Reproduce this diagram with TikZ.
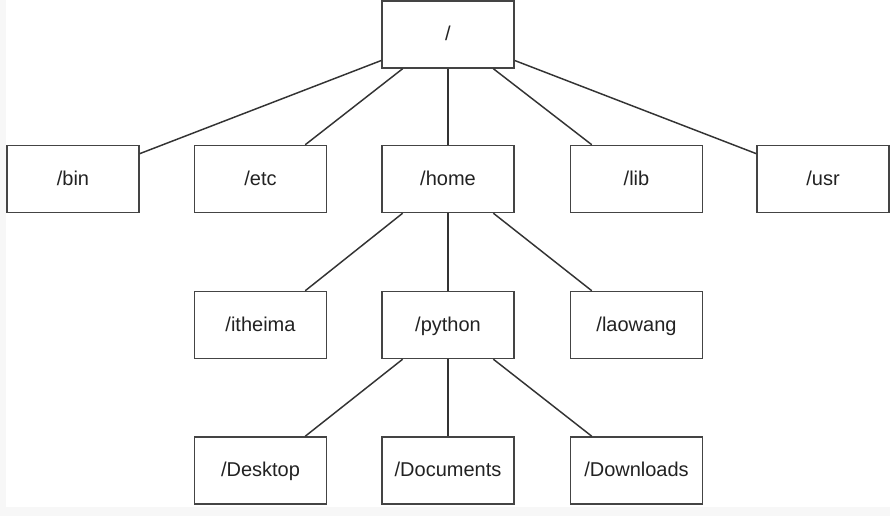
\documentclass[tikz,border=0pt]{standalone}
\usepackage{fontspec}
\setmainfont{Liberation Sans}
\usetikzlibrary{calc}
\definecolor{edgegray}{HTML}{444444}
\definecolor{linegray}{HTML}{333333}
\definecolor{txtgray}{HTML}{222222}
\definecolor{bggray}{HTML}{F7F7F7}
\begin{document}
\begin{tikzpicture}[x=0.75pt,y=-0.75pt,
  dirbox/.style={draw=edgegray, line width=1.1pt, fill=white, minimum width=132*0.75pt, minimum height=67*0.75pt, inner sep=0pt, text height=0.92em, text depth=0pt, text=txtgray, font=\fontsize{15}{18}\selectfont},
  conn/.style={draw=linegray, line width=1.1pt}]
\useasboundingbox (0,0) rectangle (890,516);
\fill[bggray] (0,0) rectangle (890,516);
\fill[white] (6,0) rectangle (890,507);
% nodes
\node[dirbox] (root) at (448,34.5) {/};
\node[dirbox] (bin) at (73,179) {/bin};
\node[dirbox] (etc) at (260.5,179) {/etc};
\node[dirbox] (home) at (448,179) {/home};
\node[dirbox] (lib) at (636.5,179) {/lib};
\node[dirbox] (usr) at (823,179) {/usr};
\node[dirbox] (itheima) at (260.5,325) {/itheima};
\node[dirbox] (python) at (448,325) {/python};
\node[dirbox] (laowang) at (636.5,325) {/laowang};
\node[dirbox] (desktop) at (260.5,470.5) {/Desktop};
\node[dirbox] (documents) at (448,470.5) {/Documents};
\node[dirbox] (downloads) at (636.5,470.5) {/Downloads};
% connectors from root
\draw[conn] ($(root.north west)!0.88!(root.south west)$) -- ($(bin.north east)!0.13!(bin.south east)$);
\draw[conn] ($(root.north east)!0.88!(root.south east)$) -- ($(usr.north west)!0.13!(usr.south west)$);
\draw[conn] ($(root.south west)!0.16!(root.south east)$) -- ($(etc.north west)!0.835!(etc.north east)$);
\draw[conn] (root.south) -- (home.north);
\draw[conn] ($(root.south west)!0.84!(root.south east)$) -- ($(lib.north west)!0.165!(lib.north east)$);
% connectors from home
\draw[conn] ($(home.south west)!0.16!(home.south east)$) -- ($(itheima.north west)!0.835!(itheima.north east)$);
\draw[conn] (home.south) -- (python.north);
\draw[conn] ($(home.south west)!0.84!(home.south east)$) -- ($(laowang.north west)!0.165!(laowang.north east)$);
% connectors from python
\draw[conn] ($(python.south west)!0.16!(python.south east)$) -- ($(desktop.north west)!0.835!(desktop.north east)$);
\draw[conn] (python.south) -- (documents.north);
\draw[conn] ($(python.south west)!0.84!(python.south east)$) -- ($(downloads.north west)!0.165!(downloads.north east)$);
\end{tikzpicture}
\end{document}
